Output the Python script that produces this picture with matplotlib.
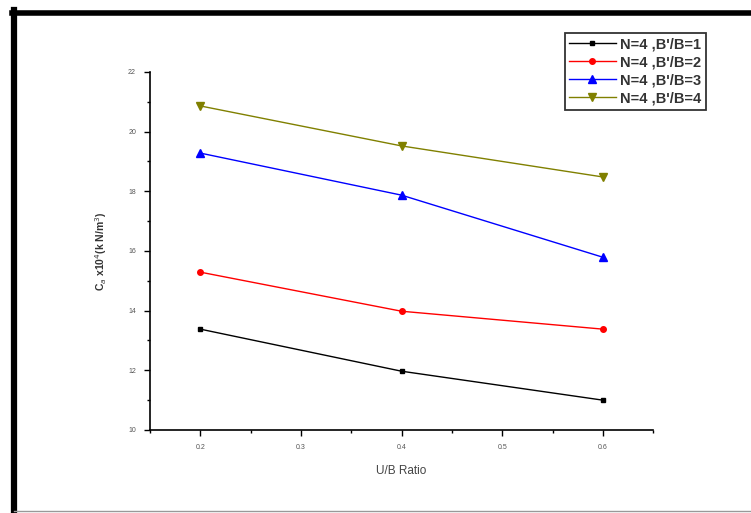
import matplotlib.pyplot as plt
from matplotlib.lines import Line2D

# values
ub_ratio = [0.2, 0.4, 0.6]
ca_ratio1 = [13.38, 11.97, 11.0]
ca_ratio2 = [15.29, 13.98, 13.38]
ca_ratio3 = [19.28, 17.87, 15.79]
ca_ratio4 = [20.86, 19.52, 18.48]
labels = ["N=4 ,B'/B=1", "N=4 ,B'/B=2", "N=4 ,B'/B=3", "N=4 ,B'/B=4"]
x_ticks = [0.2, 0.3, 0.4, 0.5, 0.6]
y_ticks = [10, 12, 14, 16, 18, 20, 22]

plt.rcParams["font.family"] = ["Liberation Sans", "DejaVu Sans"]

fig = plt.figure(figsize=(7.51, 5.13), dpi=100)
ax = fig.add_axes([0.1997, 0.1618, 0.670, 0.698])

series = [
    (ca_ratio1, "black", "s", 3.5),
    (ca_ratio2, "red", "o", 4),
    (ca_ratio3, "blue", "^", 6),
    (ca_ratio4, "#808000", "v", 6),
]
for (vals, color, marker, ms), label in zip(series, labels):
    ax.plot(ub_ratio, vals, color=color, marker=marker, markersize=ms,
            linewidth=1, label=label)

ax.set_xlim(0.15, 0.65)
ax.set_ylim(10, 22)
ax.set_xticks(x_ticks)
ax.set_yticks(y_ticks)
ax.set_xticks([0.15, 0.25, 0.35, 0.45, 0.55, 0.65], minor=True)
ax.set_yticks([11, 13, 15, 17, 19, 21], minor=True)
ax.tick_params(which="major", length=4, width=1, labelsize=5,
               labelcolor="#555555", pad=6)
ax.tick_params(which="minor", length=2, width=1)
ax.spines["top"].set_visible(False)
ax.spines["right"].set_visible(False)
ax.spines["left"].set_linewidth(1.2)
ax.spines["bottom"].set_linewidth(1.2)

ax.set_xlabel("U/B Ratio", fontsize=8.5, color="#444444", labelpad=10)
ax.set_ylabel(r"C$_a$ x10$^4$(k N/m$^3$)", fontsize=7.5, fontweight="bold",
              color="#333333", labelpad=14)

leg = ax.legend(loc="upper left", bbox_to_anchor=(0.752, 0.936),
                bbox_transform=fig.transFigure, fontsize=10.5,
                frameon=True, fancybox=False, handlelength=3.2,
                handletextpad=0.3, borderpad=0.3, labelspacing=0.28,
                borderaxespad=0)
leg.get_frame().set_edgecolor("black")
leg.get_frame().set_linewidth(1.3)
for t in leg.get_texts():
    t.set_fontweight("bold")
    t.set_color("#333333")

# outer frame around the whole picture
fig.add_artist(Line2D([14 / 751, 14 / 751], [0, 1 - 10 / 513],
                      transform=fig.transFigure, color="black", linewidth=4.5))
fig.add_artist(Line2D([12 / 751, 1], [1 - 13 / 513, 1 - 13 / 513],
                      transform=fig.transFigure, color="black", linewidth=4))
fig.add_artist(Line2D([14 / 751, 1], [2 / 513, 2 / 513],
                      transform=fig.transFigure, color="#999999", linewidth=1))

fig.savefig("out.png", dpi=100)
